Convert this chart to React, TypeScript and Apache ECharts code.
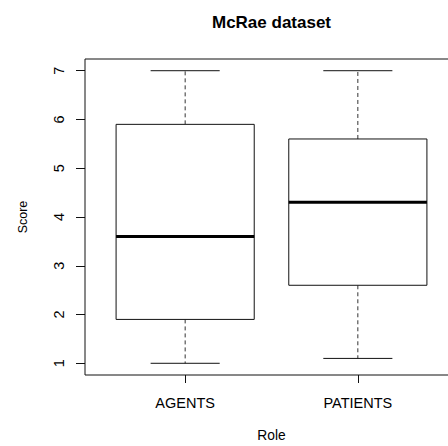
import React, { useEffect, useRef } from "react";
import * as echarts from "echarts";

const categories = ["AGENTS", "PATIENTS"];
const mins = [1.0, 1.1];
const q1s = [1.9, 2.6];
const medians = [3.6, 4.3];
const q3s = [5.9, 5.6];
const maxs = [7.0, 7.0];
const yTicks = [1, 2, 3, 4, 5, 6, 7];
const xTicks = [1, 2];

const FONT = "'Liberation Sans', Arial, Helvetica, sans-serif";

export default function App() {
  const ref = useRef<HTMLDivElement>(null);
  useEffect(() => {
    document.body.style.margin = "0";
    if (!ref.current) return;
    const chart = echarts.init(ref.current, undefined, { renderer: "svg" });
    const data = categories.map((_, i) => [i + 1, mins[i], q1s[i], medians[i], q3s[i], maxs[i]]);
    const ink = "#111";
    chart.setOption({
      animation: false,
      backgroundColor: "#fff",
      textStyle: { fontFamily: FONT },
      grid: {
        left: 85,
        top: 59,
        width: 373,
        height: 316,
        show: true,
        borderColor: ink,
        borderWidth: 1,
        backgroundColor: "transparent",
        containLabel: false,
        outerBoundsMode: "none",
      },
      graphic: [
        {
          type: "text",
          x: 271.5,
          y: 22,
          style: {
            text: "McRae dataset",
            fontFamily: FONT,
            fontSize: 17,
            fontWeight: "bold",
            fill: "#000",
            textAlign: "center",
            textVerticalAlign: "middle",
          },
        },
      ],
      xAxis: {
        type: "value",
        min: 0.42,
        max: 2.58,
        axisLine: { show: false },
        splitLine: { show: false },
        axisTick: {
          show: true,
          customValues: xTicks,
          length: 8,
          lineStyle: { color: ink, width: 1 },
        },
        axisLabel: {
          customValues: xTicks,
          formatter: (v: number) => categories[Math.round(v) - 1] ?? "",
          margin: 20,
          fontSize: 14.5,
          color: "#000",
          fontFamily: FONT,
        },
        name: "Role",
        nameLocation: "middle",
        nameGap: 53,
        nameTextStyle: { fontSize: 13.8, color: "#000", fontFamily: FONT },
      },
      yAxis: {
        type: "value",
        min: 0.76,
        max: 7.24,
        axisLine: { show: false },
        splitLine: { show: false },
        axisTick: {
          show: true,
          customValues: yTicks,
          length: 9,
          lineStyle: { color: ink, width: 1 },
        },
        axisLabel: {
          customValues: yTicks,
          rotate: 90,
          margin: 19,
          fontSize: 14.5,
          color: "#000",
          fontFamily: FONT,
        },
        name: "Score",
        nameLocation: "middle",
        nameGap: 56,
        nameTextStyle: { fontSize: 12.5, color: "#000", fontFamily: FONT },
      },
      series: [
        {
          type: "custom",
          data,
          encode: { x: 0, y: [1, 2, 3, 4, 5] },
          renderItem: (params: any, api: any) => {
            const x = api.value(0);
            const pMin = api.coord([x, api.value(1)]);
            const pQ1 = api.coord([x, api.value(2)]);
            const pMed = api.coord([x, api.value(3)]);
            const pQ3 = api.coord([x, api.value(4)]);
            const pMax = api.coord([x, api.value(5)]);
            const bw = api.size([0.8, 0])[0];
            const half = bw / 2;
            const cap = bw / 4;
            const cx = pMed[0];
            return {
              type: "group",
              children: [
                {
                  type: "line",
                  shape: { x1: cx, y1: pQ3[1], x2: cx, y2: pMax[1] },
                  style: { stroke: "#333", lineWidth: 1, lineDash: [4, 3] },
                },
                {
                  type: "line",
                  shape: { x1: cx, y1: pQ1[1], x2: cx, y2: pMin[1] },
                  style: { stroke: "#333", lineWidth: 1, lineDash: [4, 3] },
                },
                {
                  type: "line",
                  shape: { x1: cx - cap, y1: pMax[1], x2: cx + cap, y2: pMax[1] },
                  style: { stroke: ink, lineWidth: 1 },
                },
                {
                  type: "line",
                  shape: { x1: cx - cap, y1: pMin[1], x2: cx + cap, y2: pMin[1] },
                  style: { stroke: ink, lineWidth: 1 },
                },
                {
                  type: "rect",
                  shape: { x: cx - half, y: pQ3[1], width: bw, height: pQ1[1] - pQ3[1] },
                  style: { stroke: ink, lineWidth: 1, fill: "#fff" },
                },
                {
                  type: "line",
                  shape: { x1: cx - half, y1: pMed[1], x2: cx + half, y2: pMed[1] },
                  style: { stroke: "#000", lineWidth: 3 },
                },
              ],
            };
          },
        },
      ],
    });
    return () => chart.dispose();
  }, []);
  return <div ref={ref} style={{ width: 448, height: 446 }} />;
}
